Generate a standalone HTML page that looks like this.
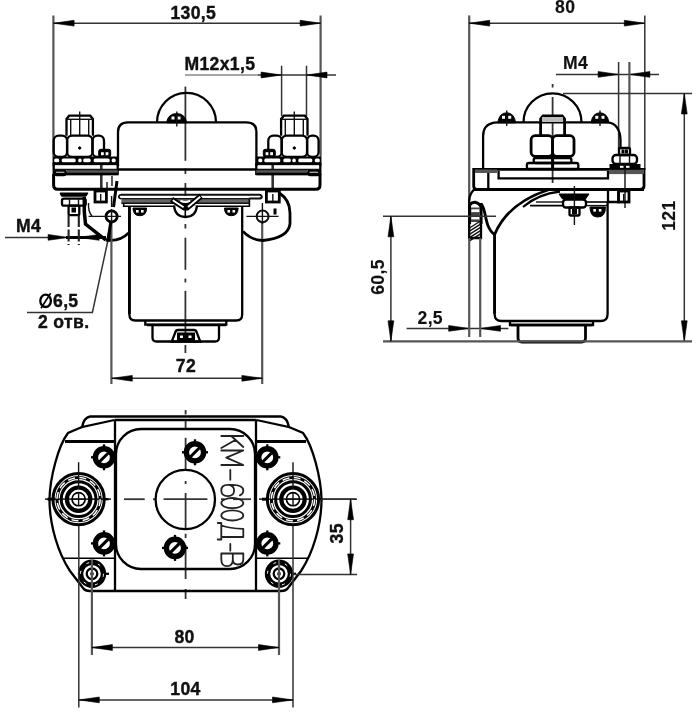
<!DOCTYPE html>
<html><head><meta charset="utf-8"><title>KM-600</title>
<style>
html,body{margin:0;padding:0;background:#fff;}
body{width:700px;height:722px;overflow:hidden;}
svg{display:block;font-family:"Liberation Sans",sans-serif;}
.o{fill:none;stroke:#000;stroke-width:2.3}
.o25{fill:none;stroke:#000;stroke-width:2.8}
.o3{fill:none;stroke:#000;stroke-width:3}
.o35{fill:none;stroke:#000;stroke-width:3.5}
.o4{fill:none;stroke:#000;stroke-width:4.2}
.o45{fill:none;stroke:#000;stroke-width:4.6}
.o5{fill:none;stroke:#000;stroke-width:5.4}
.o2{fill:none;stroke:#111;stroke-width:2}
.ow{fill:#fff;stroke:#000;stroke-width:2.3}
.wv{fill:none;stroke:#fff;stroke-width:1.9}
.bv{fill:none;stroke:#000;stroke-width:5.6;stroke-linejoin:round}
.wd{fill:none;stroke:#fff;stroke-width:1.5;stroke-dasharray:7 4.3}
.wd2{fill:none;stroke:#fff;stroke-width:1;stroke-dasharray:3 9}
.o3g{fill:none;stroke:#333;stroke-width:2.6}
.t{fill:none;stroke:#111;stroke-width:1.4}
.t12{fill:none;stroke:#000;stroke-width:1.3}
.t15{fill:none;stroke:#000;stroke-width:1.6}
.d{fill:none;stroke:#333;stroke-width:1.5}
.d2{fill:none;stroke:#555;stroke-width:2.2}
.dl{fill:none;stroke:#888;stroke-width:1.3}
.dd{fill:none;stroke:#222;stroke-width:2.1;stroke-dasharray:12 2.5}
.dsh{fill:none;stroke:#000;stroke-width:1.2;stroke-dasharray:5 3}
.c{fill:none;stroke:#333;stroke-width:1.8}
.f{fill:#000;stroke:#000;stroke-width:1}
.w{fill:#fff;stroke:none}
.g{fill:#555;stroke:none}
.g2{fill:#666;stroke:none}
.g4{fill:#444;stroke:none}
.g3{fill:#bbb;stroke:none}
.a{fill:#000;stroke:#000;stroke-width:0.6}
.tx{font-size:17.6px;font-weight:bold;fill:#111;stroke:#111;stroke-width:0.4;letter-spacing:0.35px}
.tl{stroke-width:0.15}
.lb{fill:none;stroke:#222;stroke-width:1.8;stroke-linecap:round;stroke-linejoin:round}
</style></head><body>
<svg width="700" height="722" viewBox="0 0 700 722">
<defs><filter id="bl" x="0" y="0" width="700" height="722" filterUnits="userSpaceOnUse" color-interpolation-filters="sRGB"><feGaussianBlur in="SourceGraphic" stdDeviation="0.55"/></filter></defs>
<rect x="0" y="0" width="700" height="722" fill="#fff"/>
<g id="all" filter="url(#bl)">
<rect x="-5" y="-5" width="710" height="732" fill="#fff"/>
<g id="front">
<line class="d2" x1="53.4" y1="15.5" x2="53.4" y2="166"/>
<line class="d2" x1="320.6" y1="15.5" x2="320.6" y2="166"/>
<line class="d" x1="53.6" y1="23.2" x2="320.6" y2="23.2"/>
<polygon class="a" points="53.6,23.2 74.1,20.3 74.1,26.1"/>
<polygon class="a" points="320.6,23.2 300.1,26.1 300.1,20.3"/>
<text class="tx" x="193.3" y="18.5" text-anchor="middle" >130,5</text>
<text class="tx" x="184.4" y="70" text-anchor="start" >M12x1,5</text>
<line class="dl" x1="185" y1="75" x2="258" y2="75"/>
<line class="d" x1="258" y1="75" x2="336" y2="75"/>
<line class="d" x1="281.6" y1="65.7" x2="281.6" y2="116"/>
<line class="d" x1="306.5" y1="65.7" x2="306.5" y2="116"/>
<polygon class="a" points="281.6,75.0 261.1,77.9 261.1,72.1"/>
<polygon class="a" points="306.5,75.0 327.0,72.1 327.0,77.9"/>
<line class="c" x1="185.4" y1="86.6" x2="185.4" y2="160.8"/>
<line class="c" x1="185.4" y1="168.5" x2="185.4" y2="174"/>
<line class="c" x1="185.4" y1="183" x2="185.4" y2="196"/>
<line class="c" x1="185.4" y1="224" x2="185.4" y2="228.5"/>
<line class="c" x1="185.4" y1="237.7" x2="185.4" y2="269.8"/>
<line class="c" x1="185.4" y1="278.6" x2="185.4" y2="282.4"/>
<line class="c" x1="185.4" y1="290.8" x2="185.4" y2="333"/>
<line class="c" x1="185.4" y1="345" x2="185.4" y2="353"/>
<path class="o" d="M157 122.3 A29.5 29.5 0 0 1 216 122.3"/>
<path class="o" d="M118 166 V132 Q118 122.3 128 122.3 H246.4 Q256.4 122.3 256.4 132 V166"/>
<line class="o" x1="118" y1="169.5" x2="256.4" y2="169.5"/>
<path class="f" d="M166.5 122.8 Q168 113.6 176.8 113.6 Q185 113.6 186.8 122.8 Z"/>
<rect class="w" x="171.5" y="116.5" width="3" height="3" rx="0"/>
<rect class="w" x="177.5" y="116.5" width="3" height="3" rx="0"/>
<line class="t" x1="176.8" y1="111.5" x2="176.8" y2="126.5"/>
<path class="o" d="M66.5 135.7 V119 L69.2 115.7 H90.2 L92.9 119 V135.7"/>
<line class="t" x1="66.5" y1="119.3" x2="92.9" y2="119.3"/>
<line class="t" x1="70.7" y1="119.3" x2="70.7" y2="135.7"/>
<line class="t" x1="88.7" y1="119.3" x2="88.7" y2="135.7"/>
<line class="t" x1="79.7" y1="111.5" x2="79.7" y2="135.7"/>
<rect class="o" x="53.7" y="135.7" width="13.4" height="21.3" rx="5"/>
<rect class="o" x="67.10000000000001" y="135.7" width="25.4" height="21.3" rx="5"/>
<rect class="o" x="92.5" y="135.7" width="11.5" height="21.3" rx="5"/>
<circle class="f" cx="79.7" cy="148" r="1.2"/>
<rect class="f" x="98.7" y="149.3" width="12" height="7.7" rx="2"/>
<rect class="w" x="101.0" y="152.2" width="2.8" height="3" rx="0"/>
<rect class="w" x="105.60000000000001" y="152.2" width="2.8" height="3" rx="0"/>
<line class="o3g" x1="101.3" y1="164" x2="101.3" y2="188"/>
<rect class="f" x="53.7" y="157" width="64.0" height="7" rx="0"/>
<rect class="w" x="54.2" y="158.6" width="5.0" height="3.6" rx="1.5"/>
<rect class="w" x="61.7" y="158.6" width="14" height="3.6" rx="1.5"/>
<rect class="w" x="78.2" y="158.6" width="3.5" height="3.6" rx="1.5"/>
<rect class="w" x="83.2" y="158.6" width="7.5" height="3.6" rx="1.5"/>
<rect class="w" x="93.7" y="158.6" width="16" height="3.6" rx="1.5"/>
<rect class="w" x="111.7" y="158.6" width="4" height="3.6" rx="1.5"/>
<rect class="o" x="53.7" y="164" width="64.0" height="10" rx="0"/>
<rect class="g" x="66.7" y="170" width="51.0" height="4.5" rx="0"/>
<rect class="o" x="54.7" y="170.5" width="11" height="4.5" rx="2"/>
<line class="t" x1="53.7" y1="169.5" x2="117.7" y2="169.5"/>
<path class="o" d="M281.1 135.7 V119 L283.8 115.7 H304.8 L307.5 119 V135.7"/>
<line class="t" x1="281.1" y1="119.3" x2="307.5" y2="119.3"/>
<line class="t" x1="285.3" y1="119.3" x2="285.3" y2="135.7"/>
<line class="t" x1="303.3" y1="119.3" x2="303.3" y2="135.7"/>
<line class="t" x1="294.3" y1="111.5" x2="294.3" y2="135.7"/>
<rect class="o" x="268.3" y="135.7" width="13.4" height="21.3" rx="5"/>
<rect class="o" x="281.7" y="135.7" width="25.4" height="21.3" rx="5"/>
<rect class="o" x="307.1" y="135.7" width="11.5" height="21.3" rx="5"/>
<circle class="f" cx="294.3" cy="148" r="1.2"/>
<rect class="f" x="263.3" y="149.3" width="12" height="7.7" rx="2"/>
<rect class="w" x="265.6" y="152.2" width="2.8" height="3" rx="0"/>
<rect class="w" x="270.2" y="152.2" width="2.8" height="3" rx="0"/>
<line class="o3g" x1="272.7" y1="164" x2="272.7" y2="188"/>
<rect class="f" x="256.3" y="157" width="64.0" height="7" rx="0"/>
<rect class="w" x="314.8" y="158.6" width="5.0" height="3.6" rx="1.5"/>
<rect class="w" x="298.3" y="158.6" width="14" height="3.6" rx="1.5"/>
<rect class="w" x="292.3" y="158.6" width="3.5" height="3.6" rx="1.5"/>
<rect class="w" x="283.3" y="158.6" width="7.5" height="3.6" rx="1.5"/>
<rect class="w" x="264.3" y="158.6" width="16" height="3.6" rx="1.5"/>
<rect class="w" x="258.3" y="158.6" width="4" height="3.6" rx="1.5"/>
<rect class="o" x="256.3" y="164" width="64.0" height="10" rx="0"/>
<rect class="g" x="256.3" y="170" width="51.0" height="4.5" rx="0"/>
<rect class="o" x="308.3" y="170.5" width="11" height="4.5" rx="2"/>
<line class="t" x1="256.3" y1="169.5" x2="320.3" y2="169.5"/>
<path class="o3" d="M53.6 174 V185 Q53.6 189.3 57.6 189.3 H316 Q320 189.3 320 185 V174"/>
<line class="o" x1="53.6" y1="174" x2="118" y2="174"/>
<line class="o" x1="256.4" y1="174" x2="320" y2="174"/>
<path class="o2" d="M121 194.8 H259 Q261.8 195 261.8 197 Q261.5 198.6 259 198.6 H249.4"/>
<path class="t15" d="M121 194.8 Q118.8 195 118.8 197 Q119 198.6 121.4 198.6"/>
<rect class="g2" x="121.4" y="198.3" width="128" height="5.2" rx="0"/>
<line class="t" x1="121.4" y1="198.6" x2="249.4" y2="198.6"/>
<line class="t" x1="121.4" y1="203.2" x2="249.4" y2="203.2"/>
<path class="t15" d="M123.7 203 V206.3 H249.4 V198.6"/>
<path class="ow" d="M174 205.5 Q175 217 185.5 217 Q196 217 197 205.5"/>
<line class="t15" x1="185.3" y1="208" x2="185.3" y2="216.5"/>
<path class="bv" d="M171.5 199.3 L184.5 207.8 H187 L201 196"/>
<rect class="f" x="182.5" y="203" width="6" height="5.5" rx="0"/>
<path class="wv" d="M172.8 200.2 L183.6 207.2 M188 207 L200.2 196.8"/>
<path class="wv" d="M180.5 200.6 Q185.3 203.4 190 200.6"/>
<path class="f" d="M133 208 H146.6 Q146.6 215.7 139.8 215.7 Q133 215.7 133 208 Z"/>
<rect class="w" x="136" y="210" width="2.6" height="2.6" rx="0"/>
<rect class="w" x="141" y="210" width="2.6" height="2.6" rx="0"/>
<path class="f" d="M224.5 208 H238.1 Q238.1 215.7 231.3 215.7 Q224.5 215.7 224.5 208 Z"/>
<rect class="w" x="227.5" y="210" width="2.6" height="2.6" rx="0"/>
<rect class="w" x="232.5" y="210" width="2.6" height="2.6" rx="0"/>
<path class="f" d="M60 193 H88 L86 196.2 H61.5 Z"/>
<rect class="o" x="62" y="198.6" width="23.7" height="7.1" rx="2"/>
<rect class="w" x="66" y="200.3" width="4" height="3.6" rx="0"/>
<line class="t" x1="69.5" y1="198.6" x2="69.5" y2="205.7"/>
<line class="t" x1="78.5" y1="198.6" x2="78.5" y2="205.7"/>
<rect class="o" x="68.6" y="205.7" width="10.7" height="9.5" rx="1"/>
<rect class="f" x="72" y="208" width="3.5" height="4" rx="0"/>
<rect class="o25" x="95" y="191" width="11.4" height="11" rx="0"/>
<rect class="o25" x="266.4" y="191" width="12.9" height="11" rx="0"/>
<line class="t" x1="100.7" y1="194" x2="100.7" y2="202"/>
<line class="t" x1="272.8" y1="194" x2="272.8" y2="202"/>
<path class="o3" d="M117 181 L113.5 207"/>
<line class="t" x1="107" y1="190" x2="107" y2="182"/>
<line class="t" x1="112" y1="176" x2="112" y2="186"/>
<path class="o35" d="M84.3 197 V212 L85.5 224 L105.7 240"/>
<path class="o25" d="M105.7 240 Q120 242 128.6 232.9"/>
<path class="t" d="M88.5 203 Q88 212 92 216"/>
<circle class="o25" cx="111.6" cy="216.4" r="5.6"/>
<line class="t" x1="111.6" y1="209" x2="111.6" y2="224"/>
<line class="t" x1="88.6" y1="216.4" x2="121" y2="216.4"/>
<line class="t" x1="111.6" y1="207" x2="111.6" y2="196"/>
<line class="d2" x1="111.4" y1="222" x2="111.4" y2="384"/>
<line class="d2" x1="262.2" y1="222" x2="262.2" y2="384"/>
<path class="o" d="M129.4 206 V314.5 Q129.4 320.5 135.4 320.5 H236.2 Q242.2 320.5 242.2 314.5 V206"/>
<line class="o25" x1="129.4" y1="206" x2="129.4" y2="314"/>
<path class="o" d="M145.3 321 V324.6 H226.3 V321"/>
<path class="o" d="M152.5 324.6 V337.5 Q152.5 341.5 156.5 341.5 H215 Q219 341.5 219 337.5 V324.6"/>
<line class="o" x1="147" y1="325" x2="226" y2="325"/>
<path class="o" d="M171.7 341.7 L175.5 332 Q176 330 178 330 H194 Q196 330 196.5 332 L200.3 341.7 Z"/>
<rect class="f" x="177.5" y="333" width="17" height="7.5" rx="0"/>
<rect class="w" x="180" y="335.5" width="3" height="2.5" rx="0"/>
<rect class="w" x="188.5" y="335.5" width="3" height="2.5" rx="0"/>
<path class="o25" d="M279.3 193 Q290 200 290 213 V224 Q288 238 263 240.5 Q251 240 243 231.4"/>
<circle class="o2" cx="262.6" cy="216.4" r="5.9"/>
<line class="t" x1="246.4" y1="216.4" x2="278.6" y2="216.4"/>
<line class="t" x1="262.4" y1="203" x2="262.4" y2="224"/>
<rect class="f" x="274" y="209" width="2" height="5" rx="0"/>
<line class="d" x1="111.8" y1="378.3" x2="262.4" y2="378.3"/>
<polygon class="a" points="111.8,378.3 132.3,375.4 132.3,381.2"/>
<polygon class="a" points="262.4,378.3 241.9,381.2 241.9,375.4"/>
<text class="tx" x="186" y="371.5" text-anchor="middle" >72</text>
<text class="tx" x="16" y="232" text-anchor="start" >M4</text>
<line class="d" x1="5" y1="237.4" x2="50" y2="237.4"/>
<polygon class="a" points="68.6,237.4 48.1,240.3 48.1,234.5"/>
<line class="o3" x1="66" y1="237.4" x2="106" y2="237.4"/>
<polygon class="a" points="78.6,237.4 99.1,234.5 99.1,240.3"/>
<line class="dd" x1="68.6" y1="215" x2="68.6" y2="245"/>
<line class="dd" x1="78.8" y1="215" x2="78.8" y2="245"/>
<path class="d" d="M108 240 L92.4 312.4 H27"/>
<path class="f" d="M106.8 241 L110.5 222 L110 241 Z"/>
<line class="o3" x1="108" y1="240" x2="110.8" y2="222"/>
<ellipse class="o" cx="45.6" cy="300.8" rx="5.3" ry="6.2"/>
<line class="t15" x1="41" y1="308.3" x2="50.6" y2="293.3"/>
<text class="tx" x="53" y="307" text-anchor="start" >6,5</text>
<text class="tx" x="38" y="328" text-anchor="start" >2 отв.</text>
</g>
<g id="side">
<line class="d2" x1="469.2" y1="15.4" x2="469.2" y2="200"/>
<line class="d" x1="644.8" y1="15.4" x2="644.8" y2="170"/>
<line class="d" x1="469.2" y1="23.2" x2="644.8" y2="23.2"/>
<polygon class="a" points="469.2,23.2 489.7,20.3 489.7,26.1"/>
<polygon class="a" points="644.8,23.2 624.3,26.1 624.3,20.3"/>
<text class="tx tl" x="565.2" y="13" text-anchor="middle" >80</text>
<text class="tx tl" x="563" y="68.8" text-anchor="start" >M4</text>
<line class="d" x1="556" y1="74.4" x2="659" y2="74.4"/>
<polygon class="a" points="618.6,74.4 598.1,77.3 598.1,71.5"/>
<polygon class="a" points="629.4,74.4 649.9,71.5 649.9,77.3"/>
<line class="d" x1="618.6" y1="62" x2="618.6" y2="150"/>
<line class="d2" x1="629.4" y1="62" x2="629.4" y2="148"/>
<line class="d" x1="563" y1="93.5" x2="692" y2="93.5"/>
<line class="d" x1="684.3" y1="93.5" x2="684.3" y2="341.3"/>
<polygon class="a" points="684.3,93.5 687.2,114.0 681.4,114.0"/>
<polygon class="a" points="684.3,341.3 681.4,320.8 687.2,320.8"/>
<text class="tx tl" text-anchor="middle" transform="translate(675.3,215.6) rotate(-90)" >121</text>
<line class="c" x1="552.6" y1="84" x2="552.6" y2="87.5"/>
<line class="c" x1="552.6" y1="97" x2="552.6" y2="183"/>
<path class="o" d="M523.5 122.3 A29 29 0 0 1 581.5 122.3"/>
<path class="o" d="M483.1 169 V136 Q483.1 124.5 494 122.6 L499 122.3 H608 Q620 124 620.5 140 V149"/>
<path class="f" d="M497.7 122.8 Q499.2 112.8 506.7 112.8 Q514.2 112.8 515.7 122.8 Z"/>
<rect class="w" x="502.0" y="115.8" width="3" height="3" rx="0"/>
<rect class="w" x="508.2" y="115.8" width="3" height="3" rx="0"/>
<line class="t" x1="506.7" y1="110.5" x2="506.7" y2="126"/>
<path class="f" d="M591 122.8 Q592.5 112.8 600 112.8 Q607.5 112.8 609 122.8 Z"/>
<rect class="w" x="595.3" y="115.8" width="3" height="3" rx="0"/>
<rect class="w" x="601.5" y="115.8" width="3" height="3" rx="0"/>
<line class="t" x1="600" y1="110.5" x2="600" y2="126"/>
<path class="o25" d="M540.6 135.7 V119 L543 116 H562.2 L564.6 119 V135.7"/>
<line class="t" x1="540.6" y1="119.5" x2="564.6" y2="119.5"/>
<rect class="g3" x="542" y="117" width="21" height="5" rx="0"/>
<rect class="o25" x="531.1" y="135.7" width="21.5" height="20.6" rx="4"/>
<rect class="o25" x="552.6" y="135.7" width="21.4" height="20.6" rx="4"/>
<rect class="o" x="533.7" y="158" width="37.7" height="5" rx="2"/>
<rect class="o" x="526.9" y="163" width="51.4" height="6" rx="2"/>
<line class="o3" x1="552.6" y1="156" x2="552.6" y2="169"/>
<path class="o25" d="M473.7 169.3 H644 V186 Q644 189.5 640 189.5 H477 Q473.7 189.5 473.7 186 Z"/>
<line class="o" x1="488.3" y1="169.3" x2="488.3" y2="189.5"/>
<rect class="g" x="475" y="169.5" width="22" height="3.5" rx="0"/>
<path class="o" d="M498.6 171 V178.4 H608 V171"/>
<rect class="g" x="609" y="169.6" width="35" height="4.5" rx="0"/>
<line class="o25" x1="473.7" y1="189.5" x2="644" y2="189.5"/>
<rect class="o" x="619" y="148" width="11" height="7" rx="1.5"/>
<rect class="f" x="622" y="150" width="2" height="3" rx="0"/>
<rect class="f" x="625.5" y="150" width="2" height="3" rx="0"/>
<rect class="o" x="612.5" y="155" width="24.5" height="9" rx="3.5"/>
<line class="t" x1="620" y1="155" x2="620" y2="164"/>
<line class="t" x1="629.5" y1="155" x2="629.5" y2="164"/>
<rect class="f" x="610" y="164.5" width="30" height="4.5" rx="0"/>
<rect class="w" x="620" y="165.8" width="3.5" height="2" rx="0"/>
<rect class="w" x="626" y="165.8" width="3.5" height="2" rx="0"/>
<line class="t" x1="625" y1="169" x2="625" y2="208"/>
<path class="o" d="M608 190 V202 H618.5 V191"/>
<rect class="o25" x="618.5" y="191" width="10.5" height="11" rx="0"/>
<line class="t" x1="623.7" y1="194" x2="623.7" y2="202"/>
<path class="o" d="M474 189.5 Q469 195 469.2 201 V238 H481 V204"/>
<path class="o3" d="M469.5 205 Q475 199 481 206"/>
<line class="o3" x1="469.6" y1="202" x2="469.6" y2="224"/>
<line class="o3" x1="481" y1="203" x2="481" y2="224"/>
<rect class="g4" x="471" y="207.5" width="8.6" height="14.5" rx="0"/>
<rect class="w" x="471.3" y="209.3" width="8" height="2.8" rx="0"/>
<rect class="w" x="471.3" y="216.6" width="8" height="2.8" rx="0"/>
<line class="t" x1="469.5" y1="228.0" x2="480.5" y2="221.0"/>
<line class="t" x1="469.5" y1="231.2" x2="480.5" y2="224.2"/>
<line class="t" x1="469.5" y1="234.4" x2="480.5" y2="227.4"/>
<line class="t" x1="469.5" y1="237.6" x2="480.5" y2="230.6"/>
<line class="t" x1="469.5" y1="240.8" x2="480.5" y2="233.8"/>
<path class="o25" d="M481 204 C486.5 208 484 228 494.6 234.5"/>
<path class="o25" d="M494.6 234.5 Q508 203 548 190"/>
<path class="o" d="M523 207 Q538 194 560 191.5"/>
<line class="t15" x1="530" y1="205.6" x2="563" y2="205.6"/>
<line class="t" x1="536" y1="202" x2="563" y2="202"/>
<line class="t15" x1="586" y1="202" x2="607" y2="202"/>
<line class="t" x1="586" y1="205.6" x2="607" y2="205.6"/>
<path class="f" d="M559 194 H589 L585.5 199 H562.5 Z"/>
<rect class="o" x="563" y="199.5" width="23" height="8" rx="3"/>
<rect class="w" x="567" y="201.5" width="4" height="3.5" rx="0"/>
<rect class="w" x="576" y="201.5" width="4" height="3.5" rx="0"/>
<rect class="o" x="569.5" y="207.5" width="10" height="8" rx="1"/>
<rect class="f" x="572.5" y="209.5" width="4" height="4" rx="0"/>
<line class="t" x1="574.4" y1="186" x2="574.4" y2="225"/>
<path class="f" d="M590 207 H605.5 Q605.5 217 597.7 217 Q590 217 590 207 Z"/>
<rect class="w" x="593.3" y="209" width="2.6" height="2.6" rx="0"/>
<rect class="w" x="598.8" y="209" width="2.6" height="2.6" rx="0"/>
<path class="o" d="M494.6 234 V314 Q494.6 321 501.6 321 H600.6 Q607.6 321 607.6 314 V202"/>
<line class="o25" x1="494.6" y1="234" x2="494.6" y2="314"/>
<path class="o" d="M510 321 V325 H593 V321"/>
<line class="o" x1="511" y1="325" x2="592" y2="325"/>
<path class="o25" d="M518 325 V338 Q518 342 522 342 H581.5 Q585.5 342 585.5 338 V325"/>
<line class="d2" x1="383" y1="341.3" x2="692" y2="341.3"/>
<line class="d" x1="390.9" y1="216.3" x2="390.9" y2="341.2"/>
<line class="d" x1="383" y1="216.3" x2="496" y2="216.3"/>
<polygon class="a" points="390.9,216.3 393.8,236.8 388.0,236.8"/>
<polygon class="a" points="390.9,341.3 388.0,320.8 393.8,320.8"/>
<text class="tx tl" text-anchor="middle" transform="translate(383.6,277) rotate(-90)" >60,5</text>
<text class="tx tl" x="417.5" y="323.5" text-anchor="start" >2,5</text>
<line class="d" x1="406.6" y1="328.4" x2="508.4" y2="328.4"/>
<polygon class="a" points="469.2,328.4 448.7,331.3 448.7,325.5"/>
<polygon class="a" points="480.0,328.4 500.5,325.5 500.5,331.3"/>
<line class="d2" x1="469.2" y1="238" x2="469.2" y2="337"/>
<line class="d2" x1="480.2" y1="238" x2="480.2" y2="337"/>
</g>
<g id="bottom">
<line class="c" x1="45" y1="499.2" x2="111" y2="499.2"/>
<line class="c" x1="124" y1="499.2" x2="144.7" y2="499.2"/>
<line class="c" x1="153" y1="499.2" x2="156" y2="499.2"/>
<line class="c" x1="163.6" y1="499.2" x2="207.4" y2="499.2"/>
<line class="c" x1="221" y1="499.2" x2="224.5" y2="499.2"/>
<line class="c" x1="233" y1="499.2" x2="251" y2="499.2"/>
<line class="c" x1="259" y1="499.2" x2="356" y2="499.2"/>
<line class="c" x1="185.6" y1="410" x2="185.6" y2="414.5"/>
<line class="c" x1="185.6" y1="420" x2="185.6" y2="429"/>
<line class="c" x1="185.6" y1="437.8" x2="185.6" y2="471"/>
<line class="c" x1="185.6" y1="481" x2="185.6" y2="484"/>
<line class="c" x1="185.6" y1="493" x2="185.6" y2="528"/>
<line class="c" x1="185.6" y1="533.7" x2="185.6" y2="538"/>
<line class="c" x1="185.6" y1="545" x2="185.6" y2="579"/>
<line class="c" x1="185.6" y1="589" x2="185.6" y2="599"/>
<path class="o" d="M90 416.5 H281"/>
<path class="o" d="M114.5 420 H256.5"/>
<path class="o" d="M90 416.5 Q84 417.5 82 427 L114.5 420"/>
<path class="o" d="M82 427 L68 433 C58 446 50 478 49.5 499.2 C49.5 525 58 553 70 571 L83 588 Q85 591 90 591 H186"/>
<line class="o" x1="115" y1="420" x2="115" y2="591"/>
<line class="o3" x1="65" y1="441.6" x2="115" y2="441.6"/>
<line class="t15" x1="62.5" y1="558.2" x2="115" y2="558.2"/>
<path class="o" d="M281.0 416.5 Q287.0 417.5 289.0 427 L256.5 420"/>
<path class="o" d="M289.0 427 L303.0 433 C313.0 446 321.0 478 321.5 499.2 C321.5 525 313.0 553 301.0 571 L288.0 588 Q286.0 591 281.0 591 H186"/>
<line class="o" x1="256.0" y1="420" x2="256.0" y2="591"/>
<line class="o3" x1="306.0" y1="441.6" x2="256.0" y2="441.6"/>
<line class="t15" x1="308.5" y1="558.2" x2="256.0" y2="558.2"/>
<rect class="o" x="116" y="429" width="139" height="140" rx="25"/>
<circle class="o" cx="185.3" cy="499.5" r="29.7"/>
<circle class="o5" cx="104" cy="457.3" r="8.6"/>
<line class="o3" x1="99.5" y1="461.8" x2="108.5" y2="452.8"/>
<line class="o" x1="114.5" y1="457.3" x2="117" y2="457.3"/>
<line class="o" x1="93.5" y1="457.3" x2="91" y2="457.3"/>
<line class="o" x1="104.0" y1="467.8" x2="104" y2="470.3"/>
<line class="o" x1="104.0" y1="446.8" x2="104" y2="444.3"/>
<circle class="o5" cx="195" cy="452.3" r="8.6"/>
<line class="o3" x1="190.5" y1="456.8" x2="199.5" y2="447.8"/>
<line class="o" x1="205.5" y1="452.3" x2="208" y2="452.3"/>
<line class="o" x1="184.5" y1="452.3" x2="182" y2="452.3"/>
<line class="o" x1="195.0" y1="462.8" x2="195" y2="465.3"/>
<line class="o" x1="195.0" y1="441.8" x2="195" y2="439.3"/>
<circle class="o5" cx="267.3" cy="457.3" r="8.6"/>
<line class="o3" x1="262.8" y1="461.8" x2="271.8" y2="452.8"/>
<line class="o" x1="277.8" y1="457.3" x2="280.3" y2="457.3"/>
<line class="o" x1="256.8" y1="457.3" x2="254.3" y2="457.3"/>
<line class="o" x1="267.3" y1="467.8" x2="267.3" y2="470.3"/>
<line class="o" x1="267.3" y1="446.8" x2="267.3" y2="444.3"/>
<circle class="o5" cx="104" cy="543.4" r="8.6"/>
<line class="o3" x1="99.5" y1="547.9" x2="108.5" y2="538.9"/>
<line class="o" x1="114.5" y1="543.4" x2="117" y2="543.4"/>
<line class="o" x1="93.5" y1="543.4" x2="91" y2="543.4"/>
<line class="o" x1="104.0" y1="553.9" x2="104" y2="556.4"/>
<line class="o" x1="104.0" y1="532.9" x2="104" y2="530.4"/>
<circle class="o5" cx="175" cy="547.9" r="8.6"/>
<line class="o3" x1="170.5" y1="552.4" x2="179.5" y2="543.4"/>
<line class="o" x1="185.5" y1="547.9" x2="188" y2="547.9"/>
<line class="o" x1="164.5" y1="547.9" x2="162" y2="547.9"/>
<line class="o" x1="175.0" y1="558.4" x2="175" y2="560.9"/>
<line class="o" x1="175.0" y1="537.4" x2="175" y2="534.9"/>
<circle class="o5" cx="267.3" cy="543.4" r="8.6"/>
<line class="o3" x1="262.8" y1="547.9" x2="271.8" y2="538.9"/>
<line class="o" x1="277.8" y1="543.4" x2="280.3" y2="543.4"/>
<line class="o" x1="256.8" y1="543.4" x2="254.3" y2="543.4"/>
<line class="o" x1="267.3" y1="553.9" x2="267.3" y2="556.4"/>
<line class="o" x1="267.3" y1="532.9" x2="267.3" y2="530.4"/>
<circle class="o3" cx="78.6" cy="499.2" r="25.6"/>
<circle class="o3" cx="78.6" cy="499.2" r="21.6"/>
<circle class="wd" cx="78.6" cy="499.2" r="21.6"/>
<circle class="o3" cx="78.6" cy="499.2" r="17.4"/>
<circle class="o4" cx="78.6" cy="499.2" r="11.7"/>
<circle class="t15" cx="78.6" cy="499.2" r="6.6"/>
<line class="t" x1="71.8" y1="499.2" x2="85.39999999999999" y2="499.2"/>
<line class="t" x1="78.6" y1="492.4" x2="78.6" y2="506.0"/>
<line class="t" x1="78.6" y1="462.2" x2="78.6" y2="489.2"/>
<line class="o3" x1="47.599999999999994" y1="499.2" x2="54.599999999999994" y2="499.2"/>
<line class="o" x1="102.6" y1="499.2" x2="108.6" y2="499.2"/>
<circle class="o3" cx="293" cy="499.2" r="25.6"/>
<circle class="o3" cx="293" cy="499.2" r="21.6"/>
<circle class="wd" cx="293" cy="499.2" r="21.6"/>
<circle class="o3" cx="293" cy="499.2" r="17.4"/>
<circle class="o4" cx="293" cy="499.2" r="11.7"/>
<circle class="t15" cx="293" cy="499.2" r="6.6"/>
<line class="t" x1="286.2" y1="499.2" x2="299.8" y2="499.2"/>
<line class="t" x1="293" y1="492.4" x2="293" y2="506.0"/>
<line class="t" x1="293" y1="462.2" x2="293" y2="489.2"/>
<line class="o3" x1="262" y1="499.2" x2="269" y2="499.2"/>
<line class="o" x1="317" y1="499.2" x2="323" y2="499.2"/>
<circle class="o5" cx="92" cy="573.8" r="11.5"/>
<circle class="wd2" cx="92" cy="573.8" r="11.5"/>
<circle class="o" cx="92" cy="573.8" r="5.3"/>
<circle class="t" cx="92" cy="573.8" r="1.2"/>
<line class="o" x1="105" y1="573.8" x2="109" y2="573.8"/>
<circle class="o5" cx="279" cy="573.8" r="11.5"/>
<circle class="wd2" cx="279" cy="573.8" r="11.5"/>
<circle class="o" cx="279" cy="573.8" r="5.3"/>
<circle class="t" cx="279" cy="573.8" r="1.2"/>
<line class="o" x1="292" y1="573.8" x2="296" y2="573.8"/>
<line class="d2" x1="91.9" y1="560" x2="91.9" y2="655"/>
<line class="d2" x1="279" y1="560" x2="279" y2="655"/>
<line class="d" x1="78.8" y1="526" x2="78.8" y2="707.4"/>
<line class="d" x1="293" y1="526" x2="293" y2="707.4"/>
<line class="d" x1="91.9" y1="647.5" x2="279" y2="647.5"/>
<polygon class="a" points="91.9,647.5 112.4,644.6 112.4,650.4"/>
<polygon class="a" points="279.0,647.5 258.5,650.4 258.5,644.6"/>
<line class="d" x1="78.8" y1="699.9" x2="293" y2="699.9"/>
<polygon class="a" points="78.8,699.9 99.3,697.0 99.3,702.8"/>
<polygon class="a" points="293.0,699.9 272.5,702.8 272.5,697.0"/>
<text class="tx" x="184.6" y="643" text-anchor="middle" >80</text>
<text class="tx" x="185.5" y="695" text-anchor="middle" >104</text>
<line class="d" x1="321" y1="499.2" x2="357" y2="499.2"/>
<line class="d" x1="294" y1="574.4" x2="357" y2="574.4"/>
<line class="d" x1="350.6" y1="499.2" x2="350.6" y2="574.4"/>
<polygon class="a" points="350.6,499.2 353.5,519.7 347.7,519.7"/>
<polygon class="a" points="350.6,574.4 347.7,553.9 353.5,553.9"/>
<text class="tx" text-anchor="middle" transform="translate(342.5,533.3) rotate(-90)" >35</text>
<g class="lb" transform="translate(221.3,435.5) rotate(90)">
<path d="M0.5 0 V-22 M11.5 -22 L1 -10.5 M4.5 -14 L12.5 0"/>
<path d="M15 0 V-22 L22.2 -5 L29.5 -22 V0"/>
<path d="M34.5 -9 H44.3"/>
<path d="M59.8 -18.5 Q58.5 -22 55 -22 Q49.3 -22 49.3 -11 V-6.5 Q49.3 0 55 0 Q60.6 0 60.6 -6.5 Q60.6 -12.8 55 -12.8 Q50.5 -12.8 49.3 -8"/>
<ellipse cx="67.6" cy="-11" rx="5.1" ry="11"/>
<ellipse cx="79.9" cy="-11" rx="5.1" ry="11"/>
<path d="M87.5 3.5 V0 H104 V3.5 M90 0 Q93 -8 93.3 -22 H101.5 V0"/>
<path d="M108.5 -9 H115.2"/>
<path d="M118 0 V-22 H124 Q129 -22 129 -16.5 Q129 -11.5 124 -11.5 H118 M124 -11.5 Q130.7 -11.5 130.7 -5.7 Q130.7 0 124 0 H118"/>
</g>
</g>
</g>
</svg>
</body></html>
